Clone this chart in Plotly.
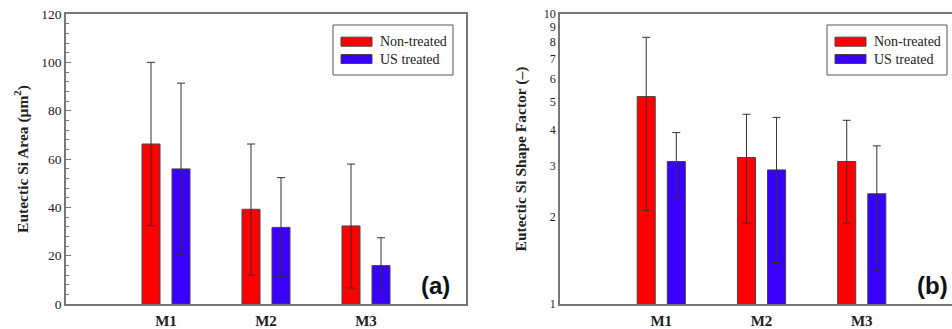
import plotly.graph_objects as go

W, H = 952, 329

categories = ["M1", "M2", "M3"]
series_names = ["Non-treated", "US treated"]
colors = ["#ff0000", "#3a00ff"]

# (a) Eutectic Si area (um^2)
area_non = [66.2, 39.2, 32.3]
area_non_up = [100.0, 66.2, 57.9]
area_non_lo = [32.4, 11.9, 6.6]
area_us = [55.9, 31.7, 15.9]
area_us_up = [91.4, 52.3, 27.4]
area_us_lo = [20.3, 11.3, 4.4]

# (b) Eutectic Si shape factor (-)
sf_non = [5.19, 3.20, 3.10]
sf_non_up = [8.31, 4.51, 4.30]
sf_non_lo = [2.10, 1.90, 1.90]
sf_us = [3.10, 2.90, 2.40]
sf_us_up = [3.90, 4.40, 3.51]
sf_us_lo = [2.30, 1.39, 1.30]

log_tickvals = [1, 2, 3, 4, 5, 6, 7, 8, 9, 10]
log_ticktext = ["1", "2", "3", "4", "5", "6", "7", "8", "9", "10"]

SERIF = "Liberation Serif, Times New Roman, serif"
SANS = "Liberation Sans, Arial, sans-serif"
AXC = "#777777"

fig = go.Figure()

def add_bars(vals, ups, los, name, color, xa, ya):
    xs = list(range(len(categories)))
    fig.add_trace(go.Bar(
        x=xs, y=vals, name=name, showlegend=False,
        marker=dict(color=color, line=dict(color="#444444", width=1)),
        error_y=dict(type="data", symmetric=False,
                     array=[u - v for u, v in zip(ups, vals)],
                     arrayminus=[v - l for v, l in zip(vals, los)],
                     color="#333333", thickness=1, width=4),
        xaxis=xa, yaxis=ya, offsetgroup=name,
    ))

add_bars(area_non, area_non_up, area_non_lo, series_names[0], colors[0], "x", "y")
add_bars(area_us, area_us_up, area_us_lo, series_names[1], colors[1], "x", "y")
add_bars(sf_non, sf_non_up, sf_non_lo, series_names[0], colors[0], "x2", "y2")
add_bars(sf_us, sf_us_up, sf_us_lo, series_names[1], colors[1], "x2", "y2")

ydom = [1 - 304 / H, 1 - 14 / H]

xcommon = dict(
    tickmode="array", tickvals=[0, 1, 2], ticktext=["<b>%s</b>" % c for c in categories],
    ticks="", showline=True, linecolor=AXC, linewidth=1.5, mirror=True,
    showgrid=False, zeroline=False, automargin=False,
    tickfont=dict(family=SERIF, size=15, color="#222222"),
    ticklabelstandoff=2,
)

fig.update_layout(
    width=W, height=H,
    margin=dict(l=0, r=0, t=0, b=0),
    paper_bgcolor="white", plot_bgcolor="white",
    barmode="group", bargap=0.4, bargroupgap=0.4,
    xaxis=dict(domain=[66 / W, 466 / W], range=[-1, 3], anchor="y", **xcommon),
    yaxis=dict(domain=ydom, range=[0, 120], anchor="x", dtick=20, automargin=False,
               ticks="inside", ticklen=5, tickcolor=AXC, tickwidth=1,
               minor=dict(dtick=4, ticks="inside", ticklen=3, tickcolor=AXC, tickwidth=1),
               showline=True, linecolor=AXC, linewidth=1.5, mirror=True,
               showgrid=False, zeroline=False,
               tickfont=dict(family=SERIF, size=13.5, color="#222222"),
               title=dict(text="<b>Eutectic Si Area (μm<sup>2</sup>)</b>",
                          font=dict(family=SERIF, size=15.5, color="#222222"), standoff=9)),
    xaxis2=dict(domain=[560 / W, 1.0], range=[-1.01, 2.9], anchor="y2", **xcommon),
    yaxis2=dict(domain=ydom, type="log", range=[0, 1], anchor="x2", automargin=False,
                tickmode="array", tickvals=log_tickvals, ticktext=log_ticktext,
                ticks="", showline=True, linecolor=AXC, linewidth=1.5, mirror=False,
                showgrid=False, zeroline=False,
                tickfont=dict(family=SERIF, size=12, color="#222222"),
                title=dict(text="<b>Eutectic Si Shape Factor (–)</b>",
                           font=dict(family=SERIF, size=15.5, color="#222222"), standoff=13)),
)

fig.update_layout(xaxis2_mirror=True)

# custom legends (box + swatches + real text)
def legend(x0):
    fig.add_shape(type="rect", xref="paper", yref="paper",
                  x0=x0 / W, x1=(x0 + 120) / W, y0=1 - 75 / H, y1=1 - 25 / H,
                  line=dict(color="#555555", width=1), fillcolor="white")
    for i, (nm, col) in enumerate(zip(series_names, colors)):
        yc = 41.7 + i * 17.3
        fig.add_shape(type="rect", xref="paper", yref="paper",
                      x0=(x0 + 8) / W, x1=(x0 + 39) / W,
                      y0=1 - (yc + 4.5) / H, y1=1 - (yc - 4.5) / H,
                      line=dict(color="#444444", width=1), fillcolor=col)
        fig.add_annotation(xref="paper", yref="paper", x=(x0 + 45) / W, y=1 - yc / H,
                           text=nm, showarrow=False, xanchor="left", yanchor="middle",
                           font=dict(family=SERIF, size=14, color="#222222"))

legend(333)
legend(827)

for txt, xc in [("(a)", 435), ("(b)", 932)]:
    fig.add_annotation(xref="paper", yref="paper", x=xc / W, y=1 - 285 / H,
                       text="<b>%s</b>" % txt, showarrow=False,
                       xanchor="center", yanchor="middle",
                       font=dict(family=SANS, size=24, color="#111111"))

fig.write_html("out.html")
